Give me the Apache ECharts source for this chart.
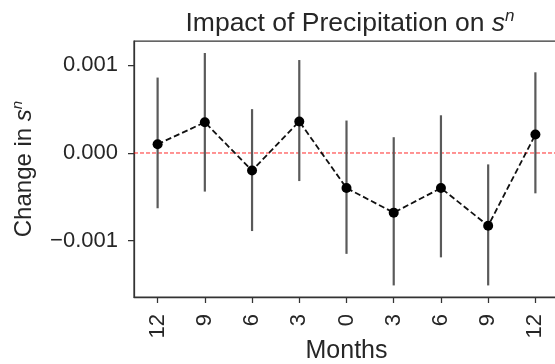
<!DOCTYPE html>
<html><head><meta charset="utf-8">
<script src="https://cdn.jsdelivr.net/npm/echarts@6/dist/echarts.min.js"></script>
<style>html,body{margin:0;padding:0;background:#fff}#c{width:555px;height:364px}</style>
</head><body><div id="c"></div>
<script>
const months = ['12','9','6','3','0','3','6','9','12'];
const means = [0.00010, 0.00035, -0.00020, 0.00036, -0.00040, -0.00068, -0.00040, -0.00083, 0.00021];
const lower = [-0.00063, -0.00044, -0.00089, -0.00032, -0.00115, -0.00151, -0.00119, -0.00151, -0.00046];
const upper = [0.00086, 0.00114, 0.00050, 0.00106, 0.00037, 0.00018, 0.00043, -0.00013, 0.00092];
const yTicks = [-0.001, 0, 0.001];
const refLine = [0];
const yMin = -0.001642, yMax = 0.001277;

const FONT = 'Liberation Sans';
const spine = '#333333';
const txt = '#262626';
const chart = echarts.init(document.getElementById('c'), null, {renderer: 'canvas'});
const errData = months.map((m, i) => [i, lower[i], upper[i]]);

chart.setOption({
  animation: false,
  backgroundColor: '#fff',
  title: {
    text: 'Impact of Precipitation on {i|s}{sup|n}',
    left: 345, top: 3, textAlign: 'center',
    textStyle: {
      fontFamily: FONT, fontSize: 26.5, fontWeight: 'normal', color: txt, lineHeight: 31,
      rich: {
        i: {fontFamily: FONT, fontSize: 26.5, fontStyle: 'italic', color: txt, lineHeight: 31},
        sup: {fontFamily: FONT, fontSize: 17, fontStyle: 'italic', color: txt, lineHeight: 17, verticalAlign: 'top'}
      }
    }
  },
  grid: {left: 134, right: -4, top: 41, bottom: 67, show: true, borderColor: spine, borderWidth: 1.25,
    containLabel: false, outerBoundsMode: 'none'},
  xAxis: {
    type: 'category', data: months, boundaryGap: true,
    name: 'Months', nameLocation: 'middle', nameGap: 42, nameMoveOverlap: false,
    nameTextStyle: {fontFamily: FONT, fontSize: 25, color: txt, lineHeight: 25},
    axisLine: {show: true, onZero: false, lineStyle: {color: spine, width: 1.25}},
    axisTick: {show: true, alignWithLabel: true, length: 6, lineStyle: {color: spine, width: 1.25}},
    axisLabel: {rotate: 90, margin: 17, fontFamily: FONT, fontSize: 22, color: txt},
    splitLine: {show: false}
  },
  yAxis: {
    type: 'value', min: yMin, max: yMax,
    name: 'Change in {i|s}{sup|n}', nameLocation: 'middle', nameGap: 96, nameRotate: 90, nameMoveOverlap: false,
    nameTextStyle: {
      fontFamily: FONT, fontSize: 24, color: txt, lineHeight: 28,
      rich: {
        i: {fontFamily: FONT, fontSize: 24, fontStyle: 'italic', color: txt, lineHeight: 28},
        sup: {fontFamily: FONT, fontSize: 15, fontStyle: 'italic', color: txt, lineHeight: 15, verticalAlign: 'top'}
      }
    },
    axisLine: {show: true, onZero: false, lineStyle: {color: spine, width: 1.25}},
    axisTick: {show: true, length: 6, customValues: yTicks, lineStyle: {color: spine, width: 1.25}},
    axisLabel: {
      customValues: yTicks, margin: 16, fontFamily: FONT, fontSize: 22, color: txt,
      formatter: v => (Math.abs(v) < 1e-12 ? '0.000' : (v < 0 ? '\u2212' : '') + Math.abs(v).toFixed(3))
    },
    splitLine: {show: false}
  },
  series: [
    {
      type: 'custom', data: refLine, z: 1, silent: true,
      renderItem: (params, api) => {
        const y = api.coord([0, api.value(0)])[1];
        const cs = params.coordSys;
        return {type: 'line', shape: {x1: cs.x, y1: y, x2: cs.x + cs.width, y2: y},
          style: {stroke: '#ff0000', lineWidth: 1, lineDash: [4, 2], opacity: 0.85}};
      },
      encode: {y: 0}
    },
    {
      type: 'custom', data: errData, z: 2,
      renderItem: (params, api) => {
        const p1 = api.coord([api.value(0), api.value(1)]);
        const p2 = api.coord([api.value(0), api.value(2)]);
        return {type: 'line', shape: {x1: p1[0], y1: p1[1], x2: p2[0], y2: p2[1]},
          style: {stroke: '#5a5a5a', lineWidth: 2.2}};
      }
    },
    {
      type: 'line', data: means, z: 3,
      symbol: 'circle', symbolSize: 10,
      itemStyle: {color: '#000'},
      lineStyle: {color: '#111', width: 1.8, type: [6, 3]}
    }
  ]
});
</script>
</body></html>
